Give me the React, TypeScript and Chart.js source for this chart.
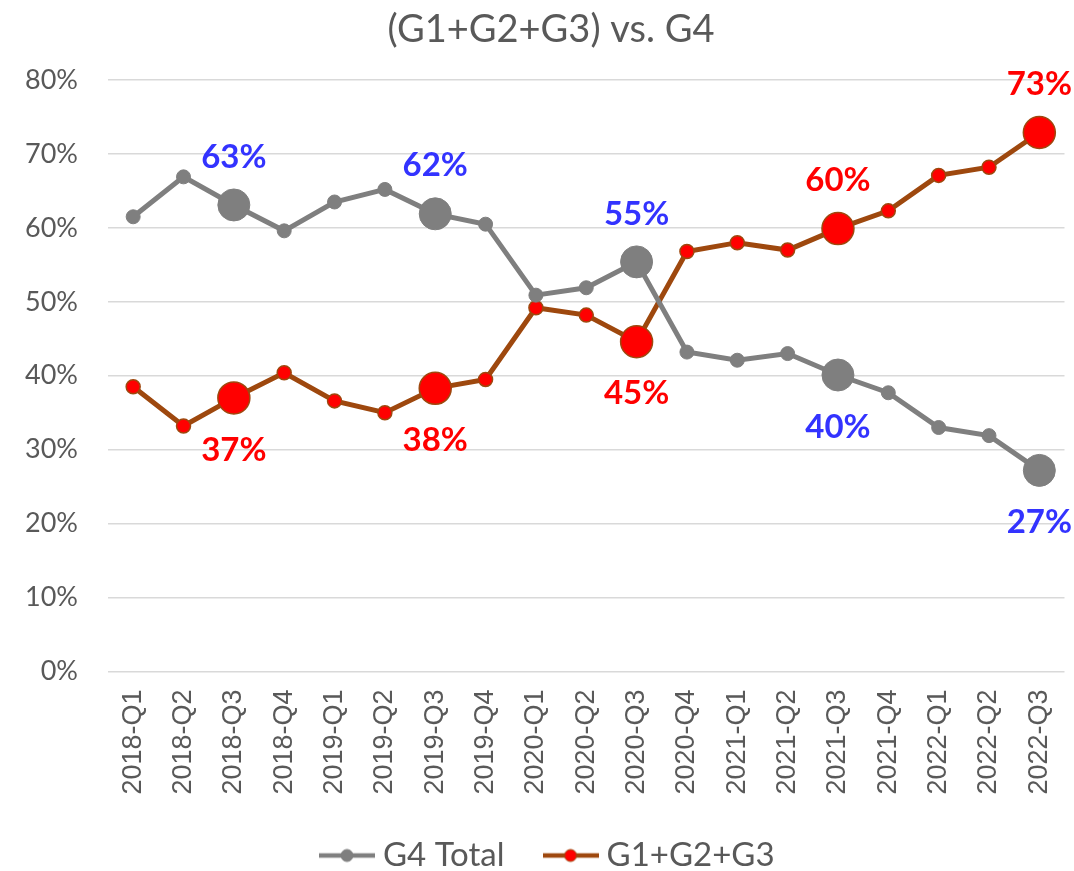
import React, { useEffect, useRef } from "react";
import { Chart, registerables } from "chart.js";

Chart.register(...registerables);

const categories = [
  "2018-Q1", "2018-Q2", "2018-Q3", "2018-Q4",
  "2019-Q1", "2019-Q2", "2019-Q3", "2019-Q4",
  "2020-Q1", "2020-Q2", "2020-Q3", "2020-Q4",
  "2021-Q1", "2021-Q2", "2021-Q3", "2021-Q4",
  "2022-Q1", "2022-Q2", "2022-Q3",
];

const g4Total = [61.5, 66.9, 63.1, 59.6, 63.5, 65.2, 61.9, 60.5, 50.9, 51.9, 55.4, 43.2, 42.1, 43.0, 40.1, 37.7, 33.0, 31.9, 27.2];
const g123 = [38.5, 33.2, 37.0, 40.4, 36.6, 35.0, 38.3, 39.5, 49.2, 48.2, 44.6, 56.8, 58.0, 57.0, 59.9, 62.3, 67.1, 68.2, 72.9];

const highlighted = ["2018-Q3", "2019-Q3", "2020-Q3", "2021-Q3", "2022-Q3"];

const yMin = 0;
const yMax = 80;
const yStep = 10;

const seriesNames = ["G4 Total", "G1+G2+G3"];

const GREY = "#7f7f7f";
const BROWN = "#9e480e";
const RED = "#ff0000";
const BLUE = "#3333ff";
const TEXT = "#595959";

function legendImage(line: string, fill: string, stroke: string) {
  const c = document.createElement("canvas");
  c.width = 56;
  c.height = 16;
  const g = c.getContext("2d")!;
  g.strokeStyle = line;
  g.lineWidth = 4.5;
  g.beginPath();
  g.moveTo(0, 8);
  g.lineTo(56, 8);
  g.stroke();
  g.beginPath();
  g.arc(28, 8, 6, 0, Math.PI * 2);
  g.fillStyle = fill;
  g.fill();
  g.lineWidth = 1;
  g.strokeStyle = stroke;
  g.stroke();
  return c;
}

const labelPlugin = {
  id: "q3Labels",
  afterLayout(chart: any) {
    const x = chart.scales.x;
    if (x) x.bottom = x.top + 150;
  },
  afterDatasetsDraw(chart: any) {
    const ctx = chart.ctx;
    const m0 = chart.getDatasetMeta(0);
    const m1 = chart.getDatasetMeta(1);
    ctx.save();
    ctx.font = "bold 33px Lato";
    ctx.textAlign = "center";
    ctx.textBaseline = "middle";
    highlighted.forEach((cat) => {
      const i = categories.indexOf(cat);
      const a = g4Total[i];
      const b = g123[i];
      const items: [any, number, number, string][] = [
        [m0, a, b, BLUE],
        [m1, b, a, RED],
      ];
      items.forEach(([meta, v, other, color]) => {
        const p = meta.data[i];
        if (!p) return;
        const y = v > other ? p.y - 48 : p.y + 52;
        ctx.fillStyle = color;
        ctx.fillText(Math.round(v) + "%", p.x, y);
      });
    });
    ctx.restore();
  },
};

export default function App() {
  const ref = useRef<HTMLCanvasElement>(null);

  useEffect(() => {
    if (!ref.current) return;
    const imgs = [legendImage(GREY, GREY, GREY), legendImage(BROWN, RED, BROWN)];
    const radius = (c: any) => (highlighted.includes(categories[c.dataIndex]) ? 16 : 7);
    const chart = new Chart(ref.current, {
      type: "line",
      data: {
        labels: categories,
        datasets: [
          {
            label: seriesNames[0],
            data: g4Total,
            borderColor: GREY,
            backgroundColor: GREY,
            borderWidth: 5,
            pointBackgroundColor: GREY,
            pointBorderColor: GREY,
            pointBorderWidth: 1,
            pointRadius: radius,
            pointHoverRadius: radius,
            tension: 0,
          },
          {
            label: seriesNames[1],
            data: g123,
            borderColor: BROWN,
            backgroundColor: RED,
            borderWidth: 5,
            pointBackgroundColor: RED,
            pointBorderColor: BROWN,
            pointBorderWidth: 1.5,
            pointRadius: radius,
            pointHoverRadius: radius,
            tension: 0,
          },
        ],
      },
      options: {
        animation: false,
        responsive: true,
        maintainAspectRatio: false,
        layout: { padding: { left: 20, right: 0, top: 0, bottom: 0 } },
        plugins: {
          title: {
            display: true,
            text: "(G1+G2+G3) vs. G4",
            color: TEXT,
            font: { family: "Lato", size: 38, weight: "normal", lineHeight: 1.2 },
            padding: { top: 7, bottom: 27.4 },
          },
          legend: {
            display: true,
            position: "bottom",
            labels: {
              usePointStyle: true,
              pointStyleWidth: 39,
              padding: 46.5,
              color: TEXT,
              font: { family: "Lato", size: 33 },
              generateLabels: (ch: any) =>
                ch.data.datasets.map((ds: any, i: number) => ({
                  text: ds.label,
                  pointStyle: imgs[i],
                  fillStyle: ds.backgroundColor,
                  strokeStyle: ds.borderColor,
                  lineWidth: 0,
                  hidden: false,
                  datasetIndex: i,
                  fontColor: TEXT,
                })),
            },
          },
          tooltip: { enabled: false },
        },
        scales: {
          x: {
            offset: true,
            grid: { display: false, drawTicks: false },
            border: { display: false },
            ticks: {
              color: TEXT,
              font: { family: "Liberation Sans", size: 27 },
              minRotation: 90,
              maxRotation: 90,
              padding: 18,
              autoSkip: false,
            },
            afterFit: (s: any) => {
              s.height = 121;
              s.paddingLeft = 0;
              s.paddingRight = 0;
            },
          },
          y: {
            min: yMin,
            max: yMax,
            grid: { color: "#d9d9d9", lineWidth: 1.5, drawTicks: false },
            border: { display: false },
            ticks: {
              stepSize: yStep,
              color: TEXT,
              font: { family: "Lato", size: 27 },
              padding: 30,
              callback: (v: any) => v + "%",
            },
            afterFit: (s: any) => {
              s.width = 88;
            },
          },
        },
      },
      plugins: [labelPlugin],
    });
    return () => chart.destroy();
  }, []);

  return (
    <div style={{ position: "absolute", left: 0, top: 0, width: 1074, height: 871, overflow: "hidden", background: "#fff" }}>
      <div style={{ position: "relative", width: 1082, height: 882 }}>
        <canvas ref={ref} />
      </div>
    </div>
  );
}
